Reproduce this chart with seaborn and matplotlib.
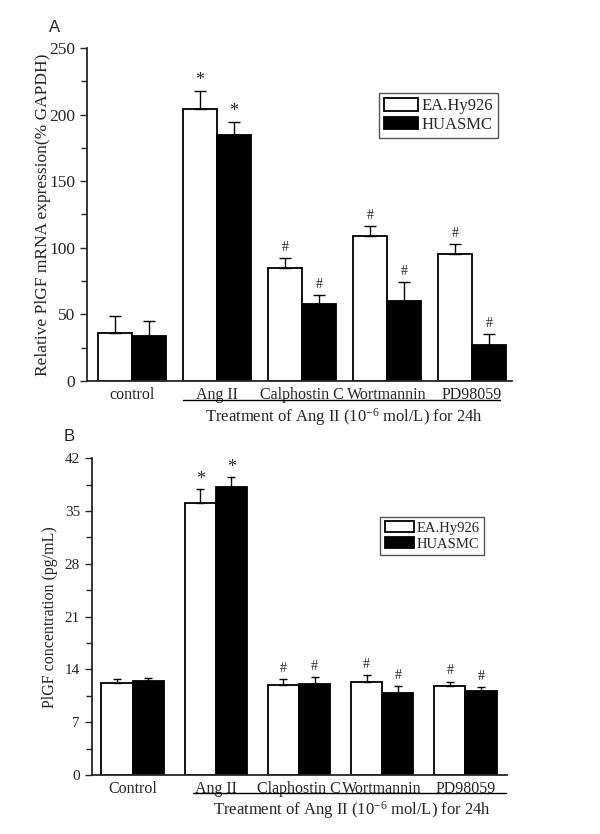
import numpy as np
import pandas as pd
import matplotlib
matplotlib.use("Agg")
import matplotlib.pyplot as plt
from matplotlib.container import BarContainer
import seaborn as sns

# ---------------- data ----------------
cells = ["EA.Hy926", "HUASMC"]

cats_a = ["control", "Ang II", "Calphostin C", "Wortmannin", "PD98059"]
ea_a = [36, 204, 85, 109, 95]
ea_a_err = [13, 14, 7, 7.5, 7.5]
hu_a = [34, 185, 58, 60, 27]
hu_a_err = [11, 9.5, 6.5, 14.5, 8.5]
marks_a_ea = ["", "*", "#", "#", "#"]
marks_a_hu = ["", "*", "#", "#", "#"]

cats_b = ["Control", "Ang II", "Claphostin C", "Wortmannin", "PD98059"]
ea_b = [12.2, 36.1, 12.0, 12.4, 11.8]
ea_b_err = [0.5, 1.8, 0.7, 0.8, 0.6]
hu_b = [12.5, 38.2, 12.1, 10.9, 11.2]
hu_b_err = [0.4, 1.3, 0.9, 0.9, 0.5]
marks_b_ea = ["", "*", "#", "#", "#"]
marks_b_hu = ["", "*", "#", "#", "#"]

ylabel_a = "Relative PlGF mRNA expression(% GAPDH)"
ylabel_b = "PlGF concentration (pg/mL)"
group_text = r"Treatment of Ang II (10$^{-6}$ mol/L) for 24h"

# ---------------- style ----------------
sns.set_style("ticks")
plt.rcParams["font.family"] = ["Liberation Serif", "DejaVu Serif"]
plt.rcParams["mathtext.fontset"] = "custom"
plt.rcParams["mathtext.rm"] = "Liberation Serif"
plt.rcParams["mathtext.it"] = "Liberation Serif:italic"

fig = plt.figure(figsize=(6.0, 8.34), dpi=100)
ax_a = fig.add_axes([0.145, 0.5432, 0.708, 0.3993])
ax_b = fig.add_axes([0.153, 0.0707, 0.692, 0.3798])


def make_df(cats, ea, hu):
    return pd.DataFrame({
        "treatment": cats * 2,
        "value": ea + hu,
        "cell": [cells[0]] * len(cats) + [cells[1]] * len(cats),
    })


def panel(ax, cats, ea, ea_err, hu, hu_err, m_ea, m_hu, ylim, major, minor,
          xlim, width, ylabel, tick_fs, xt_fs, lab_fs, cap, mark_fs,
          leg_anchor, leg_fs, line_x, text_x, ylabpad):
    df = make_df(cats, ea, hu)
    sns.barplot(data=df, x="treatment", y="value", hue="cell",
                palette=["white", "black"], edgecolor="black", linewidth=1.3,
                errorbar=None, width=width, saturation=1, ax=ax)
    bar_conts = [c for c in ax.containers if isinstance(c, BarContainer)]
    errs = [ea_err, hu_err]
    marks = [m_ea, m_hu]
    vals = [ea, hu]
    for ci, cont in enumerate(bar_conts):
        for bi, bar in enumerate(cont.patches):
            xc = bar.get_x() + bar.get_width() / 2
            h = vals[ci][bi]
            e = errs[ci][bi]
            ax.errorbar([xc], [h], yerr=[[0], [e]], fmt="none", ecolor="black",
                        elinewidth=1.0, capsize=cap, capthick=1.0, zorder=1)
            m = marks[ci][bi]
            if m:
                ax.annotate(m, (xc, h + e), xytext=(0, 1 if m == "*" else 3),
                            textcoords="offset points", ha="center", va="bottom",
                            fontsize=mark_fs + (3 if m == "*" else 0))
    ax.set_ylim(*ylim)
    ax.set_xlim(*xlim)
    ax.set_yticks(major)
    ax.set_yticks(minor, minor=True)
    ax.set_yticklabels([str(v) for v in major], fontsize=tick_fs)
    ax.tick_params(axis="y", which="major", direction="out", length=5, width=1.0)
    ax.tick_params(axis="y", which="minor", direction="out", length=4, width=1.0)
    ax.tick_params(axis="x", length=0, pad=4, labelsize=xt_fs)
    ax.set_xlabel("")
    ax.set_ylabel(ylabel, fontsize=lab_fs, labelpad=ylabpad)
    for s in ["top", "right"]:
        ax.spines[s].set_visible(False)
    for s in ["left", "bottom"]:
        ax.spines[s].set_linewidth(1.3)
    handles, labels = ax.get_legend_handles_labels()
    ax.legend(handles, labels, loc="upper right", bbox_to_anchor=leg_anchor,
              fontsize=leg_fs, frameon=True, fancybox=False, framealpha=1,
              edgecolor="#555555", handlelength=2.0, handleheight=0.8,
              handletextpad=0.2, labelspacing=0.15, borderpad=0.3,
              borderaxespad=0)
    ax.get_legend().get_frame().set_linewidth(1.0)
    # group underline + text
    ax.plot(line_x, [-0.057, -0.057], color="black", lw=1.0, clip_on=False,
            transform=ax.get_xaxis_transform())
    ax.text(text_x, -0.075, group_text, ha="center", va="top", fontsize=12,
            transform=ax.get_xaxis_transform())


panel(ax_a, cats_a, ea_a, ea_a_err, hu_a, hu_a_err, marks_a_ea, marks_a_hu,
      ylim=(0, 250), major=[0, 50, 100, 150, 200, 250],
      minor=[25, 75, 125, 175, 225], xlim=(-0.53, 4.47), width=0.8,
      ylabel=ylabel_a, tick_fs=12.5, xt_fs=11.5, lab_fs=12.5, cap=4.5,
      mark_fs=10, leg_anchor=(0.967, 0.865), leg_fs=12,
      line_x=[0.6, 4.33], text_x=2.5, ylabpad=-1)

panel(ax_b, cats_b, ea_b, ea_b_err, hu_b, hu_b_err, marks_b_ea, marks_b_hu,
      ylim=(0, 42), major=[0, 7, 14, 21, 28, 35, 42],
      minor=[3.5, 10.5, 17.5, 24.5, 31.5, 38.5], xlim=(-0.49, 4.5), width=0.75,
      ylabel=ylabel_b, tick_fs=11, xt_fs=11.5, lab_fs=11.5, cap=3,
      mark_fs=10, leg_anchor=(0.945, 0.815), leg_fs=10.5,
      line_x=[0.73, 4.49], text_x=2.64, ylabpad=5)

fig.text(55 / 600, 1 - 27 / 834, "A", family="Liberation Sans", fontsize=12,
         ha="center", va="center")
fig.text(69 / 600, 1 - 437 / 834, "B", family="Liberation Sans", fontsize=12,
         ha="center", va="center")

fig.savefig("out.png", dpi=100)
